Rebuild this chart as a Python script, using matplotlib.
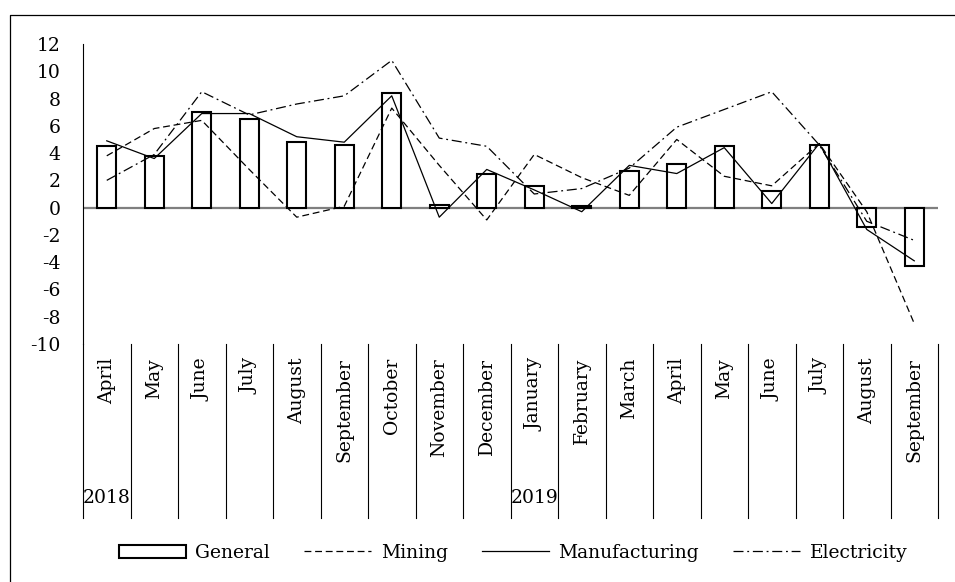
import matplotlib
matplotlib.use("Agg")
import matplotlib.pyplot as plt
from matplotlib.patches import Patch
from matplotlib.lines import Line2D
import numpy as np

months = ["April", "May", "June", "July", "August", "September", "October",
          "November", "December", "January", "February", "March", "April",
          "May", "June", "July", "August", "September"]
years = ["2018", "2019"]
year_start = [0, 9]

general = [4.5, 3.8, 7.0, 6.5, 4.8, 4.6, 8.4, 0.2, 2.5, 1.6, 0.1, 2.7,
           3.2, 4.5, 1.2, 4.6, -1.4, -4.3]
mining = [3.8, 5.8, 6.4, 2.8, -0.7, 0.1, 7.3, 3.1, -0.9, 3.9, 2.2, 0.9,
          5.0, 2.3, 1.6, 4.7, -0.3, -8.5]
manufacturing = [4.9, 3.6, 6.9, 6.9, 5.2, 4.8, 8.2, -0.7, 2.8, 1.3, -0.3, 3.1,
                 2.5, 4.4, 0.3, 4.7, -1.6, -3.9]
electricity = [2.0, 3.9, 8.5, 6.8, 7.6, 8.2, 10.8, 5.1, 4.5, 1.0, 1.4, 2.9,
               5.9, 7.2, 8.5, 4.6, -1.0, -2.4]

plt.rcParams["font.family"] = ["DejaVu Serif"]
plt.rcParams["axes.unicode_minus"] = False
FS = 13.5

W, H = 955, 582
fig = plt.figure(figsize=(W / 100, H / 100), dpi=100)

# plot area in pixels: x 83..938, y 44 (top, 12) .. 344 (bottom, -10)
left, right, top, bottom = 83, 938, 44, 344
ax = fig.add_axes([left / W, 1 - bottom / H, (right - left) / W, (bottom - top) / H])

x = np.arange(len(months))
ax.axhline(0, color="#7f7f7f", lw=1.6, zorder=1)
ax.bar(x, general, width=0.41, color="white", edgecolor="black", lw=1.5, zorder=2)

dash_mining = (0, (5.5, 3))
dash_elec = (0, (8, 3, 1.5, 3))
ax.plot(x, mining, color="black", lw=0.9, ls=dash_mining, zorder=3)
ax.plot(x, manufacturing, color="black", lw=0.9, ls="-", zorder=3)
ax.plot(x, electricity, color="black", lw=0.9, ls=dash_elec, zorder=3)

ax.set_xlim(-0.5, len(months) - 0.5)
ax.set_ylim(-10, 12)
ax.set_yticks(range(-10, 13, 2))
ax.tick_params(axis="y", length=0, pad=16, labelsize=FS)
ax.set_xticks([])
for s in ["top", "right", "bottom"]:
    ax.spines[s].set_visible(False)
ax.spines["left"].set_linewidth(0.8)

# multi-level category axis below the plot
sep_bottom = (bottom - 518) / (bottom - top)
trans = ax.get_xaxis_transform()
for xb in np.arange(-0.5, len(months), 1.0):
    ax.plot([xb, xb], [0, sep_bottom], transform=trans, color="black",
            lw=0.8, clip_on=False)

label_top = (bottom - 358) / (bottom - top)
for i, m in enumerate(months):
    ax.text(i, label_top, m, transform=trans, rotation=90, ha="center",
            va="top", fontsize=FS)

year_y = (bottom - 498) / (bottom - top)
for y, s in zip(years, year_start):
    ax.text(s - 0.5, year_y, y, transform=trans, ha="left", va="center",
            fontsize=FS)

# chart frame (left and top edges)
fig.add_artist(Line2D([10 / W, 10 / W, 1], [0, 1 - 15 / H, 1 - 15 / H],
                      transform=fig.transFigure, color="black", lw=0.9))

handles = [
    Patch(facecolor="white", edgecolor="black", lw=1.5, label="General"),
    Line2D([], [], color="black", lw=0.9, ls=dash_mining, label="Mining"),
    Line2D([], [], color="black", lw=0.9, ls="-", label="Manufacturing"),
    Line2D([], [], color="black", lw=0.9, ls=dash_elec, label="Electricity"),
]
fig.legend(handles=handles, loc="center", bbox_to_anchor=(513 / W, 1 - 553 / H),
           ncol=4, frameon=False, fontsize=FS, handlelength=3.6,
           handletextpad=0.5, columnspacing=1.8)

fig.savefig("out.png", dpi=100)
